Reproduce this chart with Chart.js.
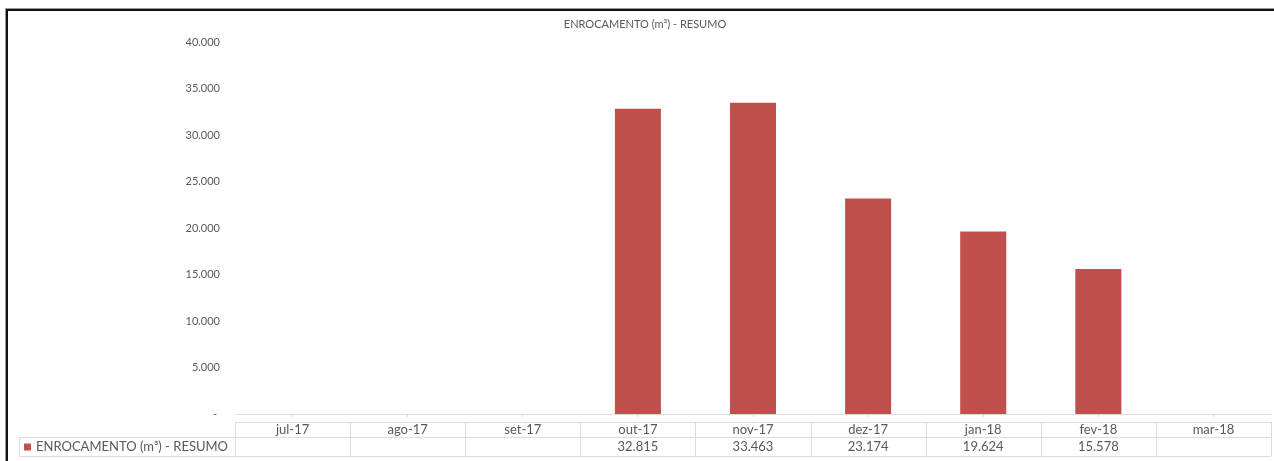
<!DOCTYPE html>
<html lang="pt-BR">
<head>
<meta charset="utf-8">
<title>ENROCAMENTO (m³) - RESUMO</title>
<script src="https://cdn.jsdelivr.net/npm/chart.js@4.4.1/dist/chart.umd.min.js"></script>
<style>
  html, body { margin: 0; padding: 0; background: #ffffff; overflow: hidden; }
  #frame {
    position: absolute; left: 6px; top: 9px; width: 1400px; height: 600px;
    border-left: 2px solid #111; border-top: 2px solid #111;
    box-shadow: -1px -1px 0 #9a9a9a;
  }
  #wrap { position: absolute; left: 0; top: 0; width: 1274px; height: 461px; }
</style>
</head>
<body>
<div id="frame"></div>
<div id="wrap"><canvas id="chart" width="1274" height="461"></canvas></div>
<script>
// Monthly rockfill volume (m³)
const categories = ['jul-17', 'ago-17', 'set-17', 'out-17', 'nov-17', 'dez-17', 'jan-18', 'fev-18', 'mar-18'];
const volumes = [null, null, null, 32815, 33463, 23174, 19624, 15578, null];
const seriesName = 'ENROCAMENTO (m³) - RESUMO';
const chartTitle = 'ENROCAMENTO (m³) - RESUMO';
const yMax = 40000;
const yStep = 5000;

const BAR_COLOR = '#C0504D';
const TEXT_COLOR = '#595959';
const LINE_COLOR = '#dcdcdc';
const FONT = 'Lato, "Open Sans", "Liberation Sans", sans-serif';

// pt-BR thousands separator
function fmt(v) {
  return String(Math.round(v)).replace(/\B(?=(\d{3})+(?!\d))/g, '.');
}

// Title plus the data table under the category axis
const tablePlugin = {
  id: 'dataTable',
  afterDraw(chart) {
    const { ctx, chartArea } = chart;
    const xs = chart.scales.x;
    const n = categories.length;
    const step = (xs.right - xs.left) / n;
    const top = chartArea.bottom + 8;
    const mid = chartArea.bottom + 23;
    const bot = chartArea.bottom + 42;
    const keyLeft = 19;

    ctx.save();
    // title
    ctx.fillStyle = TEXT_COLOR;
    ctx.font = '11px ' + FONT;
    ctx.textAlign = 'center';
    ctx.textBaseline = 'middle';
    ctx.fillText(chartTitle, 645, 24);

    // grid of the table
    ctx.strokeStyle = LINE_COLOR;
    ctx.lineWidth = 1;
    ctx.beginPath();
    ctx.moveTo(xs.left, top + 0.5); ctx.lineTo(xs.right, top + 0.5);
    ctx.moveTo(keyLeft, mid + 0.5); ctx.lineTo(xs.right, mid + 0.5);
    ctx.moveTo(keyLeft, bot + 0.5); ctx.lineTo(xs.right, bot + 0.5);
    ctx.moveTo(keyLeft + 0.5, mid); ctx.lineTo(keyLeft + 0.5, bot);
    for (let i = 0; i <= n; i++) {
      const x = Math.round(xs.left + i * step) + 0.5;
      ctx.moveTo(x, top); ctx.lineTo(x, bot);
    }
    ctx.stroke();

    // legend key + series name
    ctx.fillStyle = BAR_COLOR;
    ctx.fillRect(24, (mid + bot) / 2 - 3, 7, 7);
    ctx.fillStyle = TEXT_COLOR;
    ctx.font = '13px ' + FONT;
    ctx.textAlign = 'left';
    ctx.fillText(seriesName, 36, (mid + bot) / 2 + 0.5);

    // category labels and values
    ctx.font = '13px ' + FONT;
    ctx.textAlign = 'center';
    categories.forEach((c, i) => {
      const cx = xs.getPixelForValue(i);
      ctx.fillText(c, cx, (top + mid) / 2 + 0.5);
      if (volumes[i] != null) ctx.fillText(fmt(volumes[i]), cx, (mid + bot) / 2 + 0.5);
    });
    ctx.restore();
  }
};

new Chart(document.getElementById('chart'), {
  type: 'bar',
  data: {
    labels: categories,
    datasets: [{
      label: seriesName,
      data: volumes,
      backgroundColor: BAR_COLOR,
      barPercentage: 0.4,
      categoryPercentage: 1.0
    }]
  },
  options: {
    responsive: false,
    animation: false,
    devicePixelRatio: 1,
    layout: { padding: { left: 0, right: 3, top: 42, bottom: 0 } },
    plugins: {
      legend: { display: false },
      title: { display: false },
      tooltip: { enabled: false }
    },
    scales: {
      x: {
        grid: { display: true, drawOnChartArea: false, drawTicks: true, tickLength: 3, offset: false, color: LINE_COLOR },
        border: { display: true, color: LINE_COLOR },
        ticks: { display: false },
        afterFit(s) { s.height = 47; }
      },
      y: {
        min: 0,
        max: yMax,
        ticks: {
          stepSize: yStep,
          padding: 15,
          color: TEXT_COLOR,
          font: { family: FONT, size: 11 },
          callback: (v) => (v === 0 ? '- ' : fmt(v))
        },
        grid: { display: false, drawTicks: false },
        border: { display: false },
        afterFit(s) { s.width = 235; }
      }
    }
  },
  plugins: [tablePlugin]
});
</script>
</body>
</html>
